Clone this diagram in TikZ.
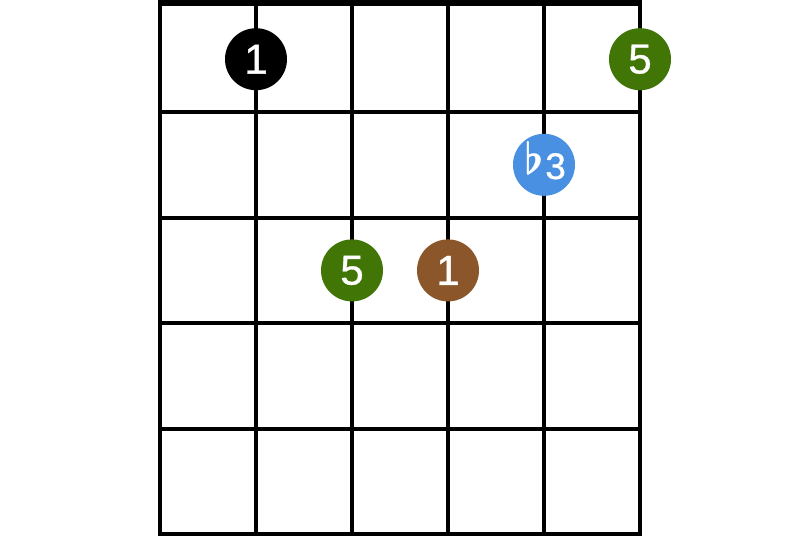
\documentclass[tikz,border=0pt]{standalone}
\usepackage{fontspec}
\setmainfont{Liberation Sans}
\newfontfamily\digitfont[FakeBold=0.8]{Liberation Sans}
\definecolor{Root}{HTML}{8B572A}
\definecolor{Fifth}{HTML}{417505}
\definecolor{Third}{HTML}{4A90E2}

\begin{document}
\begin{tikzpicture}[x=1pt,y=-1pt,
  wire/.style={line width=4pt,draw=black},
  nut/.style={fill=black},
  dot/.style={circle,minimum size=62pt,inner sep=0pt,text=white,font=\digitfont\fontsize{42}{42}\selectfont}
]
\useasboundingbox (0,0) rectangle (800,545);
\fill[nut] (158,0) rectangle (642,6.5);
\foreach \x in {160,256,352,448,544,640} {
  \draw[wire] (\x,0) -- (\x,536.4);
}
\foreach \y in {112,217.6,323.2,428.8,534.4} {
  \draw[wire] (158,\y) -- (642,\y);
}
\node[dot,fill=black] (r1) at (256,59.2) {1};
\node[dot,fill=Fifth] (f1) at (640,59.2) {5};
\node[dot,fill=Third] (t1) at (544,164.8) {};
\node[text=white,inner sep=0pt,anchor=base,font=\digitfont\fontsize{37}{37}\selectfont] (t1l) at (545,179) {\raisebox{4pt}{\scalebox{4.4}{\normalsize\boldmath$\flat$}}\kern1.5pt3};
\node[dot,fill=Fifth] (f2) at (352,270.4) {5};
\node[dot,fill=Root] (r2) at (448,270.4) {1};
\end{tikzpicture}
\end{document}
